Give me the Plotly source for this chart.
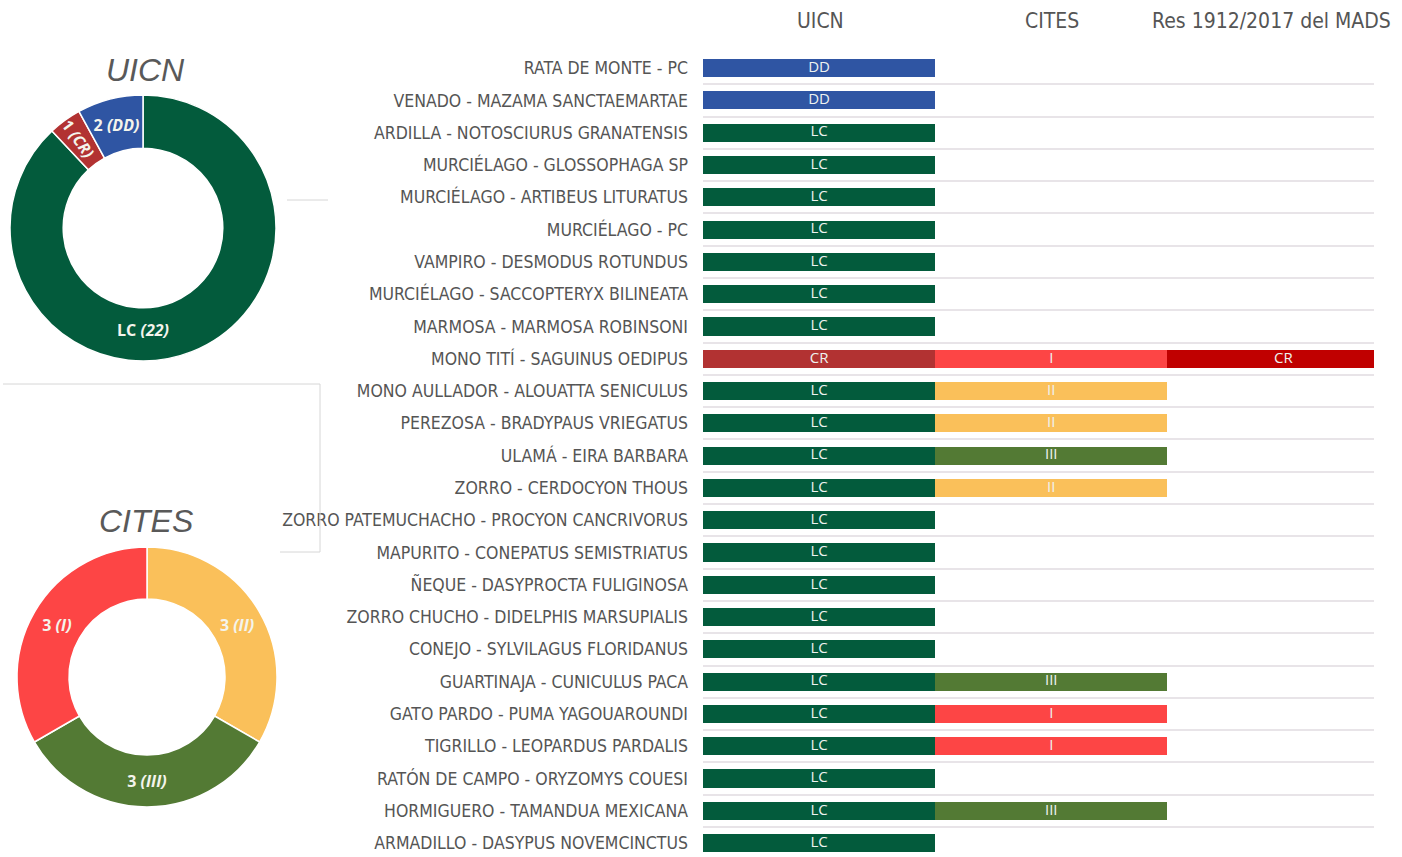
import plotly.graph_objects as go

# ---------------- data ----------------
species = [
    "RATA DE MONTE - PC",
    "VENADO - MAZAMA SANCTAEMARTAE",
    "ARDILLA - NOTOSCIURUS GRANATENSIS",
    "MURCIÉLAGO - GLOSSOPHAGA SP",
    "MURCIÉLAGO - ARTIBEUS LITURATUS",
    "MURCIÉLAGO - PC",
    "VAMPIRO - DESMODUS ROTUNDUS",
    "MURCIÉLAGO - SACCOPTERYX BILINEATA",
    "MARMOSA - MARMOSA ROBINSONI",
    "MONO TITÍ - SAGUINUS OEDIPUS",
    "MONO AULLADOR - ALOUATTA SENICULUS",
    "PEREZOSA - BRADYPAUS VRIEGATUS",
    "ULAMÁ - EIRA BARBARA",
    "ZORRO - CERDOCYON THOUS",
    "ZORRO PATEMUCHACHO - PROCYON CANCRIVORUS",
    "MAPURITO - CONEPATUS SEMISTRIATUS",
    "ÑEQUE - DASYPROCTA FULIGINOSA",
    "ZORRO CHUCHO - DIDELPHIS MARSUPIALIS",
    "CONEJO - SYLVILAGUS FLORIDANUS",
    "GUARTINAJA - CUNICULUS PACA",
    "GATO PARDO - PUMA YAGOUAROUNDI",
    "TIGRILLO - LEOPARDUS PARDALIS",
    "RATÓN DE CAMPO - ORYZOMYS COUESI",
    "HORMIGUERO - TAMANDUA MEXICANA",
    "ARMADILLO - DASYPUS NOVEMCINCTUS",
]
uicn = ["DD", "DD", "LC", "LC", "LC", "LC", "LC", "LC", "LC", "CR",
        "LC", "LC", "LC", "LC", "LC", "LC", "LC", "LC", "LC", "LC",
        "LC", "LC", "LC", "LC", "LC"]
cites = [None, None, None, None, None, None, None, None, None, "I",
         "II", "II", "III", "II", None, None, None, None, None, "III",
         "I", "I", None, "III", None]
res_mads = [None] * 9 + ["CR"] + [None] * 15

column_titles = ["UICN", "CITES", "Res 1912/2017 del MADS"]

uicn_pie_order = ["LC", "CR", "DD"]
cites_pie_order = ["II", "III", "I"]

# ---------------- styles ----------------
uicn_colors = {"DD": "#2F55A3", "LC": "#035B3C", "CR": "#B23232"}
cites_colors = {"I": "#FD4545", "II": "#FAC05A", "III": "#537A34"}
res_colors = {"CR": "#C00000"}
label_font = "DejaVu Sans Condensed, Roboto Condensed, Arial Narrow, Roboto, sans-serif"
label_color = "#555555"
bar_text_font = "Open Sans, Lato, sans-serif"

W, H = 1402, 857
x0_px, x1_px = 703, 1374
top_px = 52

uicn_counts = [uicn.count(c) for c in uicn_pie_order]
cites_counts = [cites.count(c) for c in cites_pie_order]

fig = go.Figure()

columns = [(uicn, uicn_colors), (cites, cites_colors), (res_mads, res_colors)]
for k, (vals, cmap) in enumerate(columns):
    xs = [1 if v else None for v in vals]
    cols = [cmap[v] if v else "rgba(0,0,0,0)" for v in vals]
    fig.add_trace(go.Bar(
        y=species, x=xs, orientation="h", width=0.56,
        marker=dict(color=cols, line=dict(width=0)),
        textposition="none", showlegend=False, hoverinfo="skip",
    ))

# segment labels, centred in each stacked segment
for k, (vals, cmap) in enumerate(columns):
    ys = [s for s, v in zip(species, vals) if v]
    txt = [v for v in vals if v]
    fig.add_trace(go.Scatter(
        y=ys, x=[k + 0.5] * len(ys), mode="text", text=txt,
        textposition="middle center",
        textfont=dict(family=bar_text_font, size=15, color="#EEF2F0"),
        showlegend=False, hoverinfo="skip", cliponaxis=False,
    ))

fig.update_layout(
    barmode="stack",
    width=W, height=H,
    margin=dict(l=0, r=0, t=0, b=0),
    paper_bgcolor="white", plot_bgcolor="white",
    xaxis=dict(domain=[x0_px / W, x1_px / W], range=[0, 2.89],
               showgrid=False, zeroline=False, showticklabels=False,
               fixedrange=True),
    yaxis=dict(domain=[0, 1 - top_px / H],
               range=[len(species) - 0.57, -0.5], autorange=False,
               type="category", categoryorder="array", categoryarray=species,
               tickson="boundaries",
               showgrid=True, gridcolor="#E8E4E8", gridwidth=1.5,
               ticks="", ticklabelstandoff=14, automargin=False,
               tickfont=dict(family=label_font, size=17.5, color=label_color),
               showline=False, zeroline=False),
)

# column headers
header_x = [820, 1052, 1271]
for t, hx in zip(column_titles, header_x):
    fig.add_annotation(x=hx / W, y=1 - 21 / H, xref="paper", yref="paper",
                       text=t, showarrow=False, xanchor="center", yanchor="middle",
                       font=dict(family=label_font, size=21, color=label_color))

# donuts
pie_font = dict(family="Open Sans, sans-serif", size=16, color="#F4F4EC")
uicn_dom = dict(x=[10 / W, 276 / W], y=[1 - 361 / H, 1 - 95 / H])
uicn_templates = ["<b>%{label} <i>(%{value})</i></b>", "",
                  "<b>%{value} <i>(%{label})</i></b>"]
fig.add_trace(go.Pie(
    labels=uicn_pie_order, values=uicn_counts, hole=0.6, sort=False,
    direction="clockwise", rotation=0,
    marker=dict(colors=[uicn_colors[c] for c in uicn_pie_order],
                line=dict(color="white", width=1.5)),
    texttemplate=uicn_templates, textposition="inside",
    insidetextorientation="horizontal", textfont=pie_font,
    domain=uicn_dom, showlegend=False, hoverinfo="label+value",
))
# radial label for the thin CR slice (transparent overlay of the same data)
fig.add_trace(go.Pie(
    labels=uicn_pie_order, values=uicn_counts, hole=0.6, sort=False,
    direction="clockwise", rotation=0,
    marker=dict(colors=["rgba(0,0,0,0)"] * 3, line=dict(width=0)),
    texttemplate=["", "<b>%{value} <i>(%{label})</i></b>", ""],
    textposition="inside", insidetextorientation="radial", textfont=pie_font,
    domain=uicn_dom, showlegend=False, hoverinfo="skip",
))
fig.add_trace(go.Pie(
    labels=cites_pie_order, values=cites_counts, hole=0.6, sort=False,
    direction="clockwise", rotation=0,
    marker=dict(colors=[cites_colors[c] for c in cites_pie_order],
                line=dict(color="white", width=1.5)),
    texttemplate="<b>%{value} <i>(%{label})</i></b>", textposition="inside",
    insidetextorientation="horizontal", textfont=pie_font,
    domain=dict(x=[17 / W, 277 / W], y=[1 - 807 / H, 1 - 547 / H]),
    showlegend=False, hoverinfo="label+value",
))

# donut titles
for t, cx, cy in [("UICN", 145, 70), ("CITES", 146, 521)]:
    fig.add_annotation(x=cx / W, y=1 - cy / H, xref="paper", yref="paper",
                       text=f"<i>{t}</i>", showarrow=False,
                       xanchor="center", yanchor="middle",
                       font=dict(family="Liberation Sans, Arial, sans-serif",
                                 size=32, color="#595959"))

# faint decorative frame lines
line_style = dict(color="#D6D6D6", width=1)
for (xa, ya, xb, yb) in [(287, 200, 328, 200), (3, 384, 320, 384),
                         (320, 384, 320, 552), (280, 552, 320, 552)]:
    fig.add_shape(type="line", xref="paper", yref="paper",
                  x0=xa / W, y0=1 - ya / H, x1=xb / W, y1=1 - yb / H, line=line_style)

fig.write_html("out.html", config={"displayModeBar": False},
               post_script="document.body.style.margin='0';")
